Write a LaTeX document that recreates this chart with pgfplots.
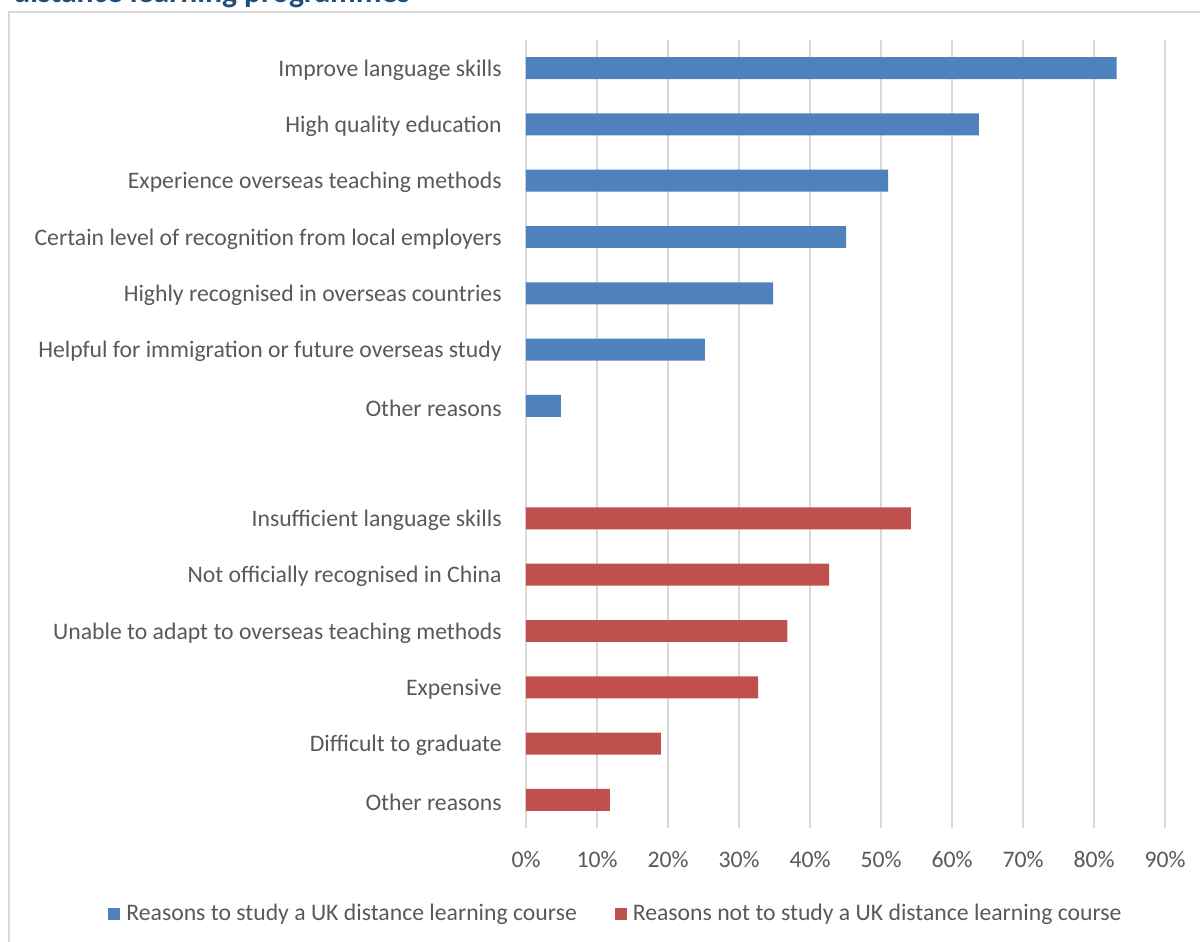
\documentclass[border=0pt]{standalone}
\usepackage{fontspec}
\setmainfont{Carlito}
\usepackage{pgfplots}
\pgfplotsset{compat=1.18}
\definecolor{barblue}{HTML}{4F81BD}
\definecolor{barred}{HTML}{C0504D}
\definecolor{gridgray}{HTML}{D9D9D9}
\definecolor{labgray}{HTML}{595959}
\definecolor{titleblue}{HTML}{1F4E79}
\begin{document}
\begin{tikzpicture}[x=0.5pt,y=0.5pt]
\useasboundingbox (0,0) rectangle (1200,942);
\begin{scope}
\clip (0,0) rectangle (1200,942);
\node[anchor=base west,inner sep=0pt,text=titleblue,font=\bfseries\fontsize{15.8}{19}\selectfont] at (13,939.5) {distance learning programmes};
\draw[gridgray,line width=0.75pt] (9,-5) -- (9,930) -- (1205,930);
\end{scope}
\begin{axis}[
  at={(263pt,57pt)}, anchor=south west,
  scale only axis, width=319.5pt, height=394pt,
  xbar, bar shift=0pt, bar width=0.39,
  xmin=0, xmax=90,
  ymin=-0.5, ymax=13.5, y dir=reverse,
  axis line style={draw=none},
  major tick length=0pt,
  xmajorgrids, grid style={gridgray, line width=1pt},
  xtick={0,10,...,90},
  xticklabels={0\%,10\%,20\%,30\%,40\%,50\%,60\%,70\%,80\%,90\%},
  ytick={0,1,2,3,4,5,6,8,9,10,11,12,13},
  yticklabels={Improve language skills,High quality education,Experience overseas teaching methods,Certain level of recognition from local employers,Highly recognised in overseas countries,Helpful for immigration or future overseas study,Other reasons,Insufficient language skills,Not officially recognised in China,Unable to adapt to overseas teaching methods,Expensive,Difficult to graduate,Other reasons},
  tick label style={text=labgray, font=\fontsize{11.85}{14}\selectfont, inner sep=0pt},
  yticklabel style={anchor=east, xshift=-12pt, yshift=-1pt},
  xticklabel style={anchor=base, yshift=-19.5pt},
  legend style={draw=none, fill=none, at={(axis description cs:0.1424,-0.1092)}, anchor=center,
    legend columns=2, font=\fontsize{11.85}{14}\selectfont, text=labgray,
    inner sep=0pt, column sep=1pt,
    /tikz/every even column/.append style={column sep=17pt}},
  legend image code/.code={\fill[#1] (0pt,-3pt) rectangle (6pt,3pt);},
  clip=false,
]
\addplot[fill=barblue, draw=none] coordinates {(83.2,0) (63.8,1) (51.0,2) (45.1,3) (34.8,4) (25.2,5) (4.9,6)};
\addlegendentry{Reasons to study a UK distance learning course}
\addplot[fill=barred, draw=none] coordinates {(54.2,8) (42.7,9) (36.8,10) (32.7,11) (19.0,12) (11.8,13)};
\addlegendentry{Reasons not to study a UK distance learning course}
\end{axis}
\end{tikzpicture}
\end{document}
